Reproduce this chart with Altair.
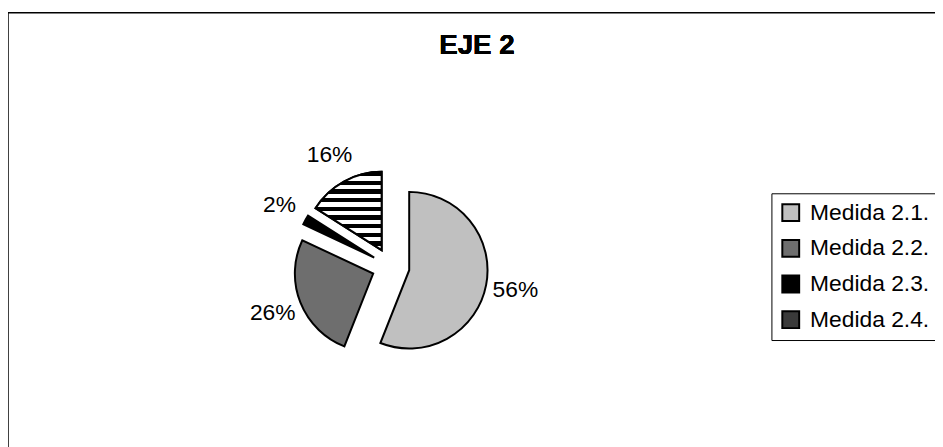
import altair as alt
import pandas as pd

categories = ["Medida 2.1.", "Medida 2.2.", "Medida 2.3.", "Medida 2.4."]
values = [56, 26, 2, 16]
labels = ["56%", "26%", "2%", "16%"]
colors = ["#c0c0c0", "#6e6e6e", "#000000", "#3a3a3a"]

df = pd.DataFrame({"cat": categories, "value": values, "label": labels,
                   "order": list(range(len(categories)))})

CX, CY, R, D, LR = 386, 259, 79, 19, 128

stops = []
n = 9
for i in range(n):
    a = i / n
    b = (i + 0.5) / n
    c = (i + 1) / n
    stops += [{"color": "black", "offset": a}, {"color": "black", "offset": b},
              {"color": "white", "offset": b}, {"color": "white", "offset": c}]
stripes = {"gradient": "linear", "x1": 0, "y1": 0, "x2": 0, "y2": 1, "stops": stops}

base = (alt.Chart(df)
        .transform_joinaggregate(total="sum(value)")
        .transform_window(cum="sum(value)", sort=[alt.SortField("order")], frame=[None, 0])
        .transform_calculate(t0="2*PI*(datum.cum-datum.value)/datum.total")
        .transform_calculate(t1="2*PI*datum.cum/datum.total")
        .transform_calculate(mid="(datum.t0+datum.t1)/2")
        .transform_calculate(cx=f"{CX}+{D}*sin(datum.mid)")
        .transform_calculate(cy=f"{CY}-{D}*cos(datum.mid)")
        .transform_calculate(lx=f"{CX}+{LR}*sin(datum.mid)")
        .transform_calculate(ly=f"{CY}-{LR}*cos(datum.mid)"))

pos = dict(
    theta=alt.Theta("t0:Q", scale=None),
    theta2="t1:Q",
    x=alt.X("cx:Q", scale=None, axis=None),
    y=alt.Y("cy:Q", scale=None, axis=None),
)

arcs = base.mark_arc(radius=R, stroke="black", strokeWidth=2).encode(
    color=alt.Color("cat:N", scale=alt.Scale(domain=categories, range=colors),
                    legend=alt.Legend(title=None, orient="none", legendX=770, legendY=185,
                                      strokeColor="black", fillColor="white", padding=8,
                                      symbolType="square", symbolSize=289,
                                      symbolStrokeColor="black", symbolStrokeWidth=2,
                                      labelFontSize=23, labelFont="Liberation Sans",
                                      labelColor="black", rowPadding=11, labelOffset=8,
                                      symbolOpacity=1, labelLimit=300)),
    **pos,
)

striped = base.transform_filter("datum.cat == 'Medida 2.4.'").mark_arc(
    radius=R, stroke="black", strokeWidth=2, fill=stripes).encode(**pos)

text = base.mark_text(fontSize=23, font="Liberation Sans", color="black",
                      baseline="middle", align="center").encode(
    x=alt.X("lx:Q", scale=None, axis=None),
    y=alt.Y("ly:Q", scale=None, axis=None),
    text="label:N",
)

title = alt.Chart(df).mark_text(text="EJE 2", fontSize=28, fontWeight="bold",
                                font="Liberation Sans", color="black",
                                baseline="middle", align="center").encode(
    x=alt.value(473), y=alt.value(37))

border = alt.Chart(df).mark_rect(fill="white", stroke="black", strokeWidth=1.5).encode(
    x=alt.value(0), x2=alt.value(1000), y=alt.value(3), y2=alt.value(1000))

chart = alt.layer(border, arcs, striped, text, title).properties(
    width=935, height=439, padding=0, autosize="none"
).configure_view(stroke=None)

chart.save("out.html", embed_options={"renderer": "svg", "actions": False})
